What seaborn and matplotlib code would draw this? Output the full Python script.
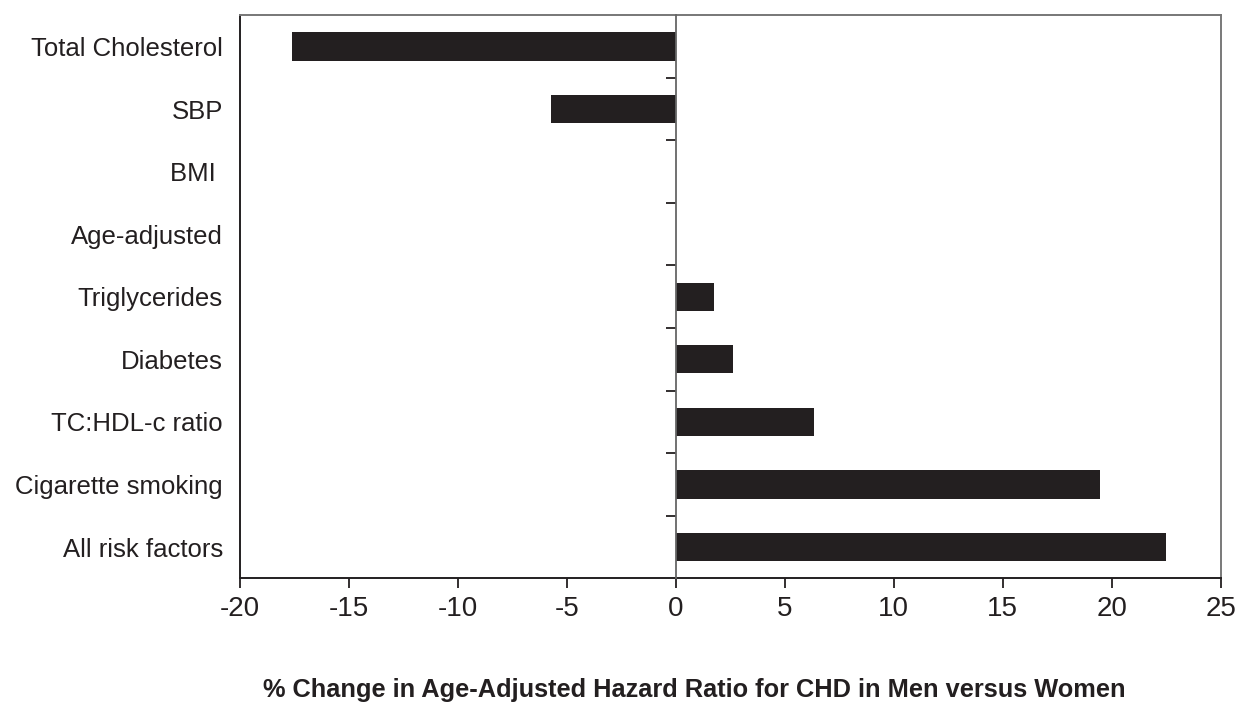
import numpy as np
import pandas as pd
import matplotlib
matplotlib.use('Agg')
import matplotlib.pyplot as plt
import seaborn as sns

# risk factors, top to bottom
factors = ['Total Cholesterol', 'SBP', 'BMI ', 'Age-adjusted', 'Triglycerides',
           'Diabetes', 'TC:HDL-c ratio', 'Cigarette smoking', 'All risk factors']
pct_change = [-17.6, -5.75, 0.0, 0.0, 1.75, 2.6, 6.35, 19.45, 22.5]
x_ticks = [-20, -15, -10, -5, 0, 5, 10, 15, 20, 25]

df = pd.DataFrame({'factor': factors, 'change': pct_change})

sns.set_style('white')
plt.rcParams['font.family'] = ['Liberation Sans', 'DejaVu Sans']

fig = plt.figure(figsize=(12.38, 7.22), dpi=100)
ax = fig.add_axes([0.194, 0.199, 0.792, 0.780])

sns.barplot(data=df, x='change', y='factor', order=factors, orient='h',
            color='#231f20', width=0.45, saturation=1, linewidth=0, ax=ax)

ax.set_xlim(-20, 25)
ax.set_ylim(len(factors) - 0.5, -0.5)
ax.set_xticks(x_ticks)
ax.set_xticklabels([str(t) for t in x_ticks], fontsize=20)
ax.tick_params(axis='x', direction='out', length=7, width=1.3, pad=6,
               bottom=True, colors='#231f20')
ax.tick_params(axis='y', left=False, labelsize=18.5, pad=9)
for lbl in ax.get_yticklabels():
    lbl.set_color('#231f20')

for sp in ax.spines.values():
    sp.set_visible(True)
    sp.set_color('#231f20')
    sp.set_linewidth(1.4)
ax.spines['top'].set_color('#777777')
ax.spines['right'].set_color('#555555')
ax.spines['right'].set_linewidth(1.1)

# y-axis drawn at zero with ticks between categories
zero_frac = (0 - (-20)) / (25 - (-20))
sec = ax.secondary_yaxis(zero_frac)
sec.set_zorder(5)
sec.set_yticks(np.arange(len(factors) - 1) + 0.5)
sec.set_yticklabels([])
sec.tick_params(direction='out', length=7, width=1.3, colors='#231f20')
sec.spines['left'].set_color('#666666')
sec.spines['left'].set_linewidth(1.3)
sec.spines['right'].set_visible(False)

ax.set_ylabel('')
ax.set_xlabel('% Change in Age-Adjusted Hazard Ratio for CHD in Men versus Women',
              fontsize=18.3, fontweight='bold', color='#231f20')
ax.xaxis.set_label_coords(0.463, -0.177)

fig.savefig('out.png', dpi=100)
